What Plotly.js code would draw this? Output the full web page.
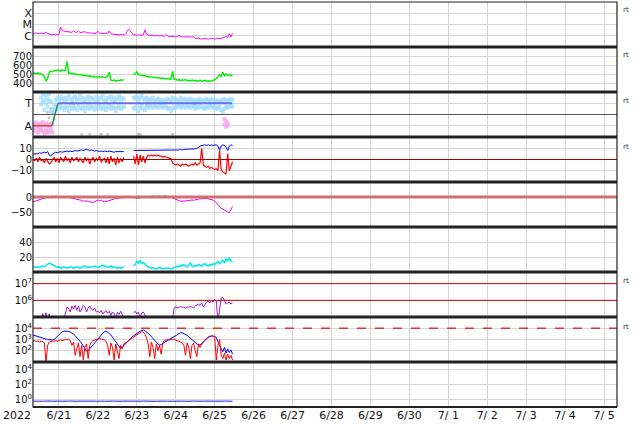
<!DOCTYPE html>
<html><head><meta charset="utf-8">
<script src="https://cdn.plot.ly/plotly-3.0.1.min.js"></script>
<style>body{margin:0;padding:0;background:#fff}#chart{width:634px;height:424px}</style>
</head><body><div id="chart"></div>
<script>
// hourly samples starting 2022-06-20 08:00
const startUTC = Date.UTC(2022,5,20,8,0);

const xrayFlux = [1.7e-6,1.6e-6,1.8e-6,1.5e-6,1.6e-6,1.7e-6,1.5e-6,1.6e-6,1.9e-6,1.6e-6,
1.4e-6,1.3e-6,1.2e-6,1.3e-6,1.2e-6,1.3e-6,1.4e-6,
6.0e-6,
3.0e-6,2.6e-6,2.4e-6,2.5e-6,2.3e-6,
2.2e-6,2.0e-6,2.8e-6,2.1e-6,2.0e-6,2.6e-6,1.9e-6,2.0e-6,1.9e-6,2.3e-6,1.8e-6,1.9e-6,1.8e-6,
1.7e-6,1.6e-6,1.7e-6,1.6e-6,2.5e-6,1.7e-6,1.6e-6,1.5e-6,1.6e-6,1.7e-6,1.6e-6,2.6e-6,1.5e-6,
1.4e-6,1.3e-6,1.4e-6,1.3e-6,1.2e-6,1.3e-6,1.2e-6,1.3e-6,1.4e-6,
2.5e-6,3.8e-6,2.6e-6,1.6e-6,1.3e-6,
1.2e-6,1.1e-6,1.2e-6,1.1e-6,1.1e-6,1.2e-6,
3.4e-6,
1.4e-6,1.1e-6,1.0e-6,1.1e-6,1.0e-6,1.0e-6,1.1e-6,1.0e-6,0.95e-6,1.0e-6,
0.9e-6,0.9e-6,1.3e-6,0.9e-6,0.85e-6,0.9e-6,0.85e-6,0.9e-6,0.8e-6,0.85e-6,1.1e-6,0.85e-6,0.8e-6,0.85e-6,0.8e-6,0.8e-6,0.85e-6,0.8e-6,0.75e-6,0.8e-6,
0.6e-6,0.55e-6,0.6e-6,0.55e-6,0.5e-6,0.55e-6,0.6e-6,0.55e-6,0.5e-6,0.55e-6,0.6e-6,0.55e-6,0.5e-6,0.55e-6,0.6e-6,0.55e-6,
0.6e-6,0.65e-6,0.7e-6,0.9e-6,0.7e-6,1.5e-6,0.8e-6,1.6e-6];

const windSpeed = [505,510,500,515,495,505,490,470,
420,450,
520,530,525,540,535,545,540,530,545,535,540,
640,
505,510,500,505,495,500,490,495,485,490,480,485,475,480,
470,475,465,470,460,475,465,470,460,465,470,
520,
430,425,435,420,430,425,435,430,440,
null,null,null,null,null,
490,500,525,495,485,490,480,485,475,
470,465,470,460,465,455,460,455,450,455,450,445,450,445,440,
530,
440,445,430,440,425,435,430,440,425,430,420,435,425,430,420,425,430,420,425,430,420,425,420,425,430,435,
450,470,490,475,520,480,500,485,495,480,490];

const sectorUpper = [null,null,null,null,null,
1.5,1.8,1.3,1.7,1.4,1.8,1.2,
0.5,0.9,1.3,
1.5,1.3,1.6,1.4,1.2,1.5,1.3,1.7,1.4,1.2,1.5,1.6,1.3,1.4,1.7,1.3,1.5,1.2,1.4,1.6,1.3,1.5,1.4,1.2,1.6,1.3,1.5,1.4,1.7,1.3,1.2,1.5,1.4,1.6,1.3,1.5,1.2,1.4,1.6,1.3,1.5,1.4,
null,null,null,null,null,
1.5,1.4,1.6,1.3,1.5,1.7,1.4,1.3,1.5,1.2,1.4,1.3,1.5,1.2,1.3,1.4,1.2,1.3,1.1,1.3,1.2,1.4,1.3,1.2,1.5,1.3,1.4,1.2,1.3,1.5,1.2,1.3,1.4,1.2,1.3,1.4,1.2,1.3,1.1,1.3,1.2,1.4,1.2,1.3,1.2,1.4,1.3,1.2,1.3,1.4,1.2,1.3,1.1,1.2,1.3,1.2,1.4,1.3,1.2,1.3,1.4,1.3];
const sectorLower = [null,null,null,null,null,
0.9,1.1,0.4,1.0,0.7,1.2,0.3,
0.2,0.4,0.7,
0.7,0.5,0.8,0.6,0.4,0.7,0.6,0.3,0.8,0.5,0.7,0.6,0.4,0.8,0.6,0.5,0.7,0.3,0.6,0.8,0.5,0.7,0.6,0.4,0.7,0.5,0.8,0.6,0.5,0.7,0.4,0.6,0.8,0.5,0.7,0.6,0.3,0.6,0.7,0.5,0.6,0.7,
null,null,null,null,null,
0.6,0.5,0.7,0.3,0.6,0.8,0.5,0.4,0.7,0.6,0.8,0.7,0.6,0.8,0.7,0.6,0.8,0.7,0.6,0.8,0.7,0.5,0.6,0.3,0.5,0.7,0.6,0.8,0.7,0.6,0.8,0.7,0.6,0.8,0.7,0.6,0.8,0.7,0.5,0.7,0.6,0.8,0.7,0.6,0.5,0.7,0.6,0.8,0.7,0.6,0.7,0.5,0.6,0.7,0.4,0.2,0.5,0.7,0.6,0.7,0.8,0.7];
const pinkHours = [0,1,2,3,4,5,6,7,8,9,10,11,12,118,119,120];
const pinkUpper = [-0.8,-0.9,-0.7,-1.0,-0.8,-0.9,-0.7,-1.0,-0.8,-0.9,-1.0,-0.8,-0.9,-0.4,-0.6,-0.8];
const pinkLower = [-1.3,-1.5,-1.2,-1.6,-1.4,-1.3,-1.5,-1.7,-1.4,-1.6,-1.5,-1.3,-1.6,-0.9,-1.1,-1.0];
const grayHours = [9,10,11,12,13,30,35,42,46,65,66,86,25,50,70,100];
const grayVals = [0.2,-0.3,0.5,0.1,-0.4,-1.75,-1.75,-1.75,-1.75,-1.75,-1.75,-1.75,0.9,1.1,0.8,0.9];
const sectorLineTimes = ['2022-06-20 08:00','2022-06-20 19:40','2022-06-20 23:25','2022-06-25 10:50'];
const sectorLineVals = [-1,-1,1,1];

const imfBt = [5,5,5.5,5,6,5.5,6,6.5,6,7,
4,3,5,
6,6.5,6,6.5,7,6.5,7,7,7.5,7,7.5,7,7.5,8,7.5,8,8,8.5,
8,8.5,9,8.5,8,8.5,8,7.5,8,7.5,
7,7.5,7,7.5,7,7,7.5,7,7,6.5,7,7,6.5,7,7,7,
null,null,null,null,null,
8,8,8.5,8,8,8.5,8,8,8.5,8.5,8,8,8.5,8,8.5,8,8,8.5,8,8,8,8.5,8,8,
8,8.5,8,8,8.5,9,8.5,9,9,9.5,9,9,9.5,9,9.5,10,10.5,
12,12.5,13,13,12.5,13,12.5,13,12.5,13,13,12,8,12,13,12.5,11,8,12,13,12.5];

const imfBz = [0,-1,1,-2,2,-1,0,-3,1,-2,
-4,-3,-1,
2,-2,1,-3,2,0,-2,3,-1,1,-3,2,-1,0,2,-2,1,-1,
-3,2,-1,1,-4,0,2,-2,1,-1,3,-2,0,1,
-3,2,-4,3,-2,1,-5,2,-3,1,-2,2,
null,null,null,null,null,
3,-4,5,-5,4,-2,3,-3,2,
4,3,4,3,4,3,4,3,3,2,3,2,2,1,1,
-3,-4,-5,-4,-5,-6,-4,-5,-4,-5,-6,-5,-4,-5,
-3,-5,-4,-3,10,
-5,-6,-7,-6,-8,-7,-8,-9,-8,-10,
8,-9,
-11,-12,-13,
5,
-10,-6,-2];

const dst = [-16,-14,-12,-10,-8,-6,-5,-3,-2,-1,0,
1,3,1,3,2,1,2,1,0,1,0,-1,
-3,-5,-6,-7,-6,-8,-10,-12,-14,-13,
-13,-14,-16,-17,-18,-16,-13,-10,
-12,-10,-14,-16,-15,-13,-12,-10,-8,-6,
-5,-4,-3,-2,-3,-2,-1,-2,0,-1,
-2,-1,-3,-5,-4,-3,-2,-1,0,1,2,1,2,3,
2,3,4,3,2,3,4,3,2,1,0,-2,
-5,-8,-10,-12,-14,-15,-14,-13,-12,
-12,-11,-10,-11,-9,-8,-7,-6,-5,-5,
-5,-5,-6,-7,-8,
-10,-14,-18,-24,-32,-38,-40,-44,-48,
-50,-52,-42,-32];

const density = [6,7,6,7,6,7,8,7,9,10,
12,11,10,8,7,
6,7,5,6,7,6,5,6,7,6,5,6,7,6,5,6,7,8,6,7,6,
6,7,8,7,6,7,8,9,8,7,6,7,8,6,7,6,5,6,5,6,7,
null,null,null,null,null,
8,10,14,12,15,11,13,10,8,7,6,
5,6,5,4,5,6,5,4,5,5,6,5,4,5,6,7,
8,7,9,8,10,8,7,9,12,8,7,9,8,10,9,8,10,11,9,8,10,9,11,10,
12,14,11,13,16,12,18,14,19,15,13];

const electron2MeV = [4e4,3e4,5e4,4e4,3e4,6e4,
1.6e5,8e4,1.8e5,7e4,1.5e5,
5e4,4e4,3e4,5e4,4e4,6e4,5e4,4e4,7e4,
2e5,4e5,3e5,2e5,4.5e5,3e5,5e5,2.5e5,4.5e5,2e5,3e5,5e5,4e5,2e5,3.5e5,4.5e5,3e5,2.5e5,3.5e5,2e5,
2.2e5,1.8e5,2.5e5,1.5e5,2e5,2.4e5,1.7e5,2.2e5,1.2e5,2e5,1.6e5,8e4,1.9e5,1.4e5,2.2e5,1.5e5,9e4,
null,null,null,null,null,
1.8e5,2.2e5,1.5e5,2e5,9e4,1.7e5,2e5,1.4e5,8e4,
5e4,4e4,6e4,5e4,4e4,3e4,5e4,4e4,6e4,5e4,4e4,5e4,3e4,4e4,5e4,6e4,
3.5e5,4e5,3.5e5,4e5,4.2e5,3.8e5,4e5,3.5e5,4e5,3.8e5,4.2e5,4e5,3.6e5,4.5e5,
5e5,6e5,5e5,7e5,4e5,6e5,8e5,9e5,7e5,1e6,8e5,1.1e6,9e5,
5e4,3e5,
1.4e6,1.5e6,9e5,6e5,7e5,8e5,6e5,7e5];

const fluxBlue = [2500,2300,2000,1800,1600,1500,1300,1200,1100,1000,950,900,900,
1000,1400,2000,3000,4000,5000,5500,5700,5600,5300,
4500,3800,3000,2200,1600,1100,700,450,250,150,90,
100,150,250,400,600,900,1300,1900,2700,3600,4800,5600,
4500,3500,2500,1600,1000,600,350,200,160,
200,300,450,650,900,1200,1700,2200,3000,3800,4600,5500,6500,7000,
6000,4800,3600,2600,1800,1200,800,550,400,320,
350,450,550,700,850,1000,1300,1600,2000,2500,3000,3600,4000,4000,
3500,2900,2300,1800,1300,1000,700,500,400,350,320,
450,650,900,1200,1500,1800,2000,2000,
1900,1500,600,300,
150,80,200,60,150,70,120,50];

const fluxRed = [700,800,650,750,600,700,650,500,
10,
300,600,700,
700,750,800,700,850,900,800,950,1000,1100,1000,
800,300,600,40,200,500,30,300,15,200,400,20,300,600,
800,900,1000,1100,1200,1100,1000,900,700,
300,40,500,200,15,400,100,20,300,150,400,
500,700,900,1100,1400,1700,2200,2800,3500,4200,5000,4500,
3000,1500,400,30,600,200,20,400,100,300,50,500,
800,900,1000,900,1000,1100,1000,900,800,700,600,500,
300,40,500,200,20,300,500,100,30,400,200,
400,600,900,1300,1700,2000,2200,2100,1500,
15,
300,1000,
40,20,60,15,50,20,40,15];

const bottomBlue = [0.6,0.55,0.62,0.58,0.6,0.65,0.57,0.6,0.63,0.56,0.6,0.62,0.58,0.61,0.6,0.57,0.64,0.6,0.58,0.62,0.6,0.56,0.6,0.63,0.59,0.6,0.62,0.57,0.6,0.61,
0.58,0.62,0.6,0.57,0.63,0.6,0.58,0.61,0.6,0.56,0.62,0.6,0.59,0.63,0.6,0.57,0.61,0.6,0.58,0.62,0.6,0.57,0.6,0.64,0.6,0.58,0.61,0.6,0.57,0.62,
0.6,0.58,0.63,0.6,0.57,0.61,0.6,0.59,0.62,0.6,0.57,0.6,0.63,0.58,0.6,0.61,0.57,0.6,0.62,0.6,
0.58,0.61,0.6,0.57,0.63,0.6,0.58,0.61,0.6,0.56,0.62,0.6,0.59,0.63,0.6,0.57,0.61,0.6,0.58,0.62,
0.6,0.57,0.6,0.64,0.6,0.58,0.61,0.6,0.57,0.62,0.6,0.58,0.63,0.6,0.57,0.61,0.6,0.59,0.62,0.6,0.57,0.6,0.63,0.58];

const dayTickVals = ['2022-06-21','2022-06-22','2022-06-23','2022-06-24','2022-06-25','2022-06-26','2022-06-27','2022-06-28','2022-06-29','2022-06-30','2022-07-01','2022-07-02','2022-07-03','2022-07-04','2022-07-05'];
const dayTickText = ['6/21','6/22','6/23','6/24','6/25','6/26','6/27','6/28','6/29','6/30','7/ 1','7/ 2','7/ 3','7/ 4','7/ 5'];

function hourTime(h){ const d=new Date(startUTC+h*3600000); return d.toISOString().slice(0,16).replace('T',' '); }
const times = xrayFlux.map((_,i)=>hourTime(i));
const pinkTimes = pinkHours.map(hourTime);
const grayTimes = grayHours.map(hourTime);

const FONT = 'DejaVu Sans, Verdana, sans-serif';
function ln(y, yaxis, color, width){ return {x:times, y:y, xaxis:'x', yaxis:yaxis, type:'scatter', mode:'lines', line:{color:color, width:width||1}, connectgaps:false, hoverinfo:'skip'}; }
const SKY = 'rgba(160,220,255,0.75)', PINK = 'rgba(245,165,235,0.8)';

const traces = [
  ln(xrayFlux,'y','#ff00ff'),
  ln(windSpeed,'y2','#00ee00', 1.4),
  {x:grayTimes, y:grayVals, xaxis:'x', yaxis:'y3', type:'scatter', mode:'markers', marker:{color:'#c4c4c4', size:3}},
  {x:times, y:sectorUpper, xaxis:'x', yaxis:'y3', type:'scatter', mode:'markers', marker:{color:SKY, size:4, symbol:'square'}},
  {x:times, y:sectorLower, xaxis:'x', yaxis:'y3', type:'scatter', mode:'markers', marker:{color:SKY, size:4, symbol:'square'}},
  {x:pinkTimes, y:pinkUpper, xaxis:'x', yaxis:'y3', type:'scatter', mode:'markers', marker:{color:PINK, size:4, symbol:'square'}},
  {x:pinkTimes, y:pinkLower, xaxis:'x', yaxis:'y3', type:'scatter', mode:'markers', marker:{color:PINK, size:4, symbol:'square'}},
  {x:sectorLineTimes.slice(0,2), y:sectorLineVals.slice(0,2), xaxis:'x', yaxis:'y3', mode:'lines', line:{color:'#e0403a', width:1.5}},
  {x:sectorLineTimes.slice(1,3), y:sectorLineVals.slice(1,3), xaxis:'x', yaxis:'y3', mode:'lines', line:{color:'#2e8b57', width:1.5}},
  {x:sectorLineTimes.slice(2,4), y:sectorLineVals.slice(2,4), xaxis:'x', yaxis:'y3', mode:'lines', line:{color:'#6b6bf0', width:2}},
  ln(imfBt,'y4','#0000ff'),
  ln(imfBz,'y4','#ff0000', 1.2),
  ln(dst,'y5','#ee00ee'),
  ln(density,'y6','#00e8e8', 1.5),
  ln(electron2MeV,'y7','#9a1ad0'),
  ln(fluxBlue,'y8','#0000ff'),
  ln(fluxRed,'y8','#ff0000'),
  ln(bottomBlue,'y9','#1a1aff')
];

function dom(i){ return [1-(i+1)/9, 1-i/9]; }
function yax(i, extra){
  return Object.assign({domain:dom(i), anchor:'x', showgrid:true, gridcolor:'#d6d6d6', gridwidth:1, zeroline:false, showline:false, ticks:'', fixedrange:true,
    tickfont:{family:FONT, size:10, color:'#111'}}, extra);
}
const sup = n => '10<sup>'+n+'</sup>';
const layout = {
  width:634, height:424, margin:{l:33, r:17, t:2, b:17}, showlegend:false,
  paper_bgcolor:'#fff', plot_bgcolor:'#fff', font:{family:FONT, size:10, color:'#111'},
  xaxis:{type:'date', anchor:'y9', range:['2022-06-20 08:00','2022-07-05 08:00'], tickvals:dayTickVals, ticktext:dayTickText,
    showgrid:true, gridcolor:'#d6d6d6', zeroline:false, showline:false, ticks:'', tickfont:{family:FONT, size:11, color:'#111'}},
  yaxis: yax(0,{type:'log', range:[-7,-3], tickvals:[1e-6,1e-5,1e-4], ticktext:['C','M','X'], tickfont:{family:FONT, size:11, color:'#111'}}),
  yaxis2: yax(1,{range:[300,800], tickvals:[400,500,600,700]}),
  yaxis3: yax(2,{range:[-2,2], tickvals:[-1,1], ticktext:['A','T'], tickfont:{family:FONT, size:11, color:'#111'}}),
  yaxis4: yax(3,{range:[-20,20], tickvals:[-10,0,10], ticktext:['\u221210','0','10']}),
  yaxis5: yax(4,{range:[-100,50], tickvals:[-50,0], ticktext:['\u221250','0']}),
  yaxis6: yax(5,{range:[0,60], tickvals:[20,40]}),
  yaxis7: yax(6,{type:'log', range:[5,7.7], tickvals:[1e6,1e7], ticktext:[sup(6),sup(7)]}),
  yaxis8: yax(7,{type:'log', range:[1,5], tickvals:[1e2,1e3,1e4], ticktext:[sup(2),sup(3),sup(4)]}),
  yaxis9: yax(8,{type:'log', range:[-1,5], tickvals:[1,1e2,1e4], ticktext:[sup(0),sup(2),sup(4)]}),
  shapes:[], annotations:[]
};
// reference lines
layout.shapes.push({type:'line', xref:'paper', x0:0, x1:1, yref:'y3', y0:0, y1:0, line:{color:'#555', width:1}});
layout.shapes.push({type:'line', xref:'paper', x0:0, x1:1, yref:'y4', y0:0, y1:0, line:{color:'#a00000', width:1}});
layout.shapes.push({type:'line', xref:'paper', x0:0, x1:1, yref:'y5', y0:0, y1:0, line:{color:'#d07070', width:3}});
layout.shapes.push({type:'line', xref:'paper', x0:0, x1:1, yref:'y7', y0:1e6, y1:1e6, line:{color:'#cc0000', width:1}});
layout.shapes.push({type:'line', xref:'paper', x0:0, x1:1, yref:'y7', y0:1e7, y1:1e7, line:{color:'#cc0000', width:1}});
layout.shapes.push({type:'line', xref:'paper', x0:0, x1:1, yref:'y8', y0:1e4, y1:1e4, line:{color:'#dd3333', width:1.5, dash:'dash'}});
// panel separators and frame
for(let k=1;k<9;k++) layout.shapes.push({type:'line', xref:'paper', yref:'paper', x0:0, x1:1, y0:k/9, y1:k/9, line:{color:'#222', width:3}});
layout.shapes.push({type:'rect', xref:'paper', yref:'paper', x0:0, x1:1, y0:0, y1:1, line:{color:'#222', width:1.2}});
layout.shapes.push({type:'line', xref:'paper', yref:'paper', x0:0, x1:1, y0:0, y1:0, line:{color:'#222', width:2}});
// rt labels
[0.98,0.869,0.756,0.642,0.311,0.198].forEach(y=>layout.annotations.push({xref:'paper', yref:'paper', x:1.007, y:y, xanchor:'left', yanchor:'middle', text:'rt', showarrow:false, font:{family:FONT, size:7, color:'#333'}}));
layout.annotations.push({xref:'paper', yref:'paper', x:-0.027, y:-0.02, xanchor:'center', yanchor:'middle', text:'2022', showarrow:false, font:{family:FONT, size:11, color:'#111'}});

Plotly.newPlot('chart', traces, layout, {staticPlot:true, displayModeBar:false});
</script></body></html>
